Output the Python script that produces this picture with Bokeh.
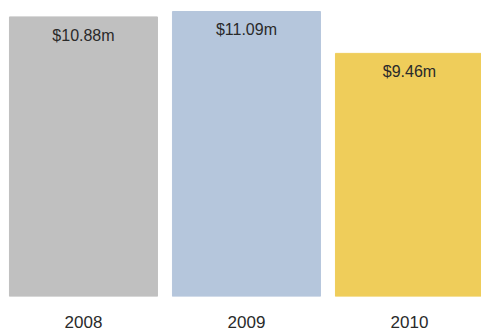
from bokeh.plotting import figure
from bokeh.models import ColumnDataSource, Range1d, FixedTicker
from bokeh.core.properties import value
from bokeh.embed import file_html
from bokeh.resources import INLINE

years = ["2008", "2009", "2010"]
revenue = [10.88, 11.09, 9.46]
labels = ["$10.88m", "$11.09m", "$9.46m"]
colors = ["#c0c0c0", "#b5c6dc", "#efcd5a"]

xs = list(range(len(years)))
src = ColumnDataSource(dict(x=xs, top=revenue, label=labels, color=colors))

p = figure(width=481, height=332, output_backend="svg", toolbar_location=None,
           x_range=Range1d(-0.509, 2.442), y_range=Range1d(0, 11.518),
           min_border=0, min_border_bottom=36)
p.vbar(x="x", top="top", width=0.908, color="color", source=src)
p.text(x="x", y="top", text="label", source=src, text_align="center",
       text_baseline="middle", y_offset=18.5, text_color="#2a2a2a",
       text_font=value("Liberation Sans"), text_font_size="16px")

p.xaxis.ticker = FixedTicker(ticks=xs)
p.xaxis.major_label_overrides = {i: y for i, y in zip(xs, years)}
p.xaxis.axis_line_color = None
p.xaxis.major_tick_line_color = None
p.xaxis.minor_tick_line_color = None
p.xaxis.major_tick_in = 0
p.xaxis.major_tick_out = 0
p.xaxis.major_label_standoff = 19
p.xaxis.major_label_text_font = "Liberation Sans"
p.xaxis.major_label_text_font_size = "17px"
p.xaxis.major_label_text_color = "#2a2a2a"
p.yaxis.visible = False
p.grid.visible = False
p.outline_line_color = None

open("out.html", "w").write(file_html(p, INLINE))
